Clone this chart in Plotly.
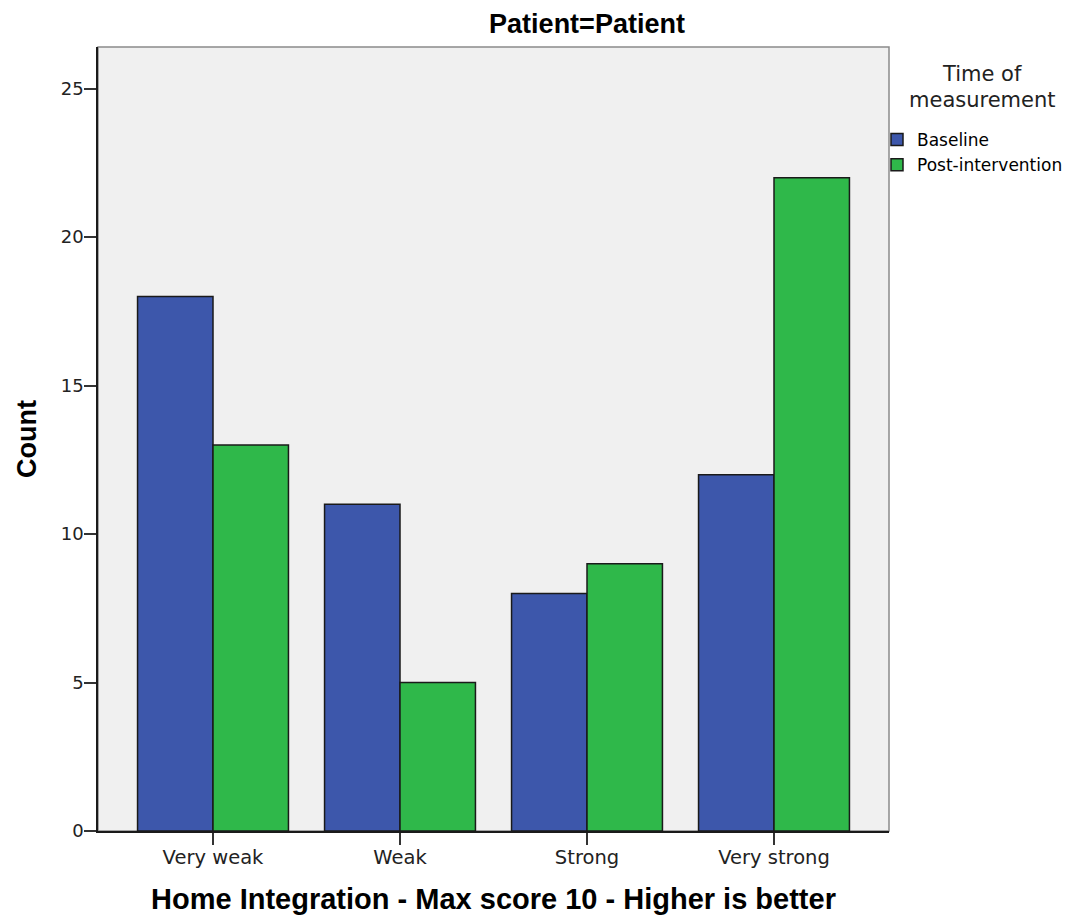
import plotly.graph_objects as go

categories = ["Very weak", "Weak", "Strong", "Very strong"]
baseline = [18, 11, 8, 12]
post_intervention = [13, 5, 9, 22]
series_names = ["Baseline", "Post-intervention"]
y_ticks = [0, 5, 10, 15, 20, 25]

W, H = 1063, 907  # page has an 8px body margin
L, T, PW, PH = 90, 39, 791, 784

fig = go.Figure()
fig.add_trace(go.Bar(x=categories, y=baseline, name=series_names[0],
                     marker=dict(color="#3D57AB", line=dict(color="#1a1a1a", width=1.5))))
fig.add_trace(go.Bar(x=categories, y=post_intervention, name=series_names[1],
                     marker=dict(color="#2FB84A", line=dict(color="#1a1a1a", width=1.5))))

fig.update_layout(
    width=W, height=H,
    margin=dict(l=L, r=W - L - PW, t=T, b=H - T - PH, autoexpand=False),
    paper_bgcolor="white",
    plot_bgcolor="#F0F0F0",
    barmode="group",
    bargap=0.193,
    bargroupgap=0,
    font=dict(family="DejaVu Sans, sans-serif", size=18, color="#222"),
    title=dict(text="<b>Patient=Patient</b>", x=579 / W, xanchor="center",
               y=1 - 6 / H, yanchor="top",
               font=dict(family="Liberation Sans, Arial", size=27, color="black")),
    legend=dict(
        x=(869 - L) / PW, xanchor="left", y=1 - (114 - T) / PH, yanchor="top",
        font=dict(family="DejaVu Sans", size=17, color="black"),
        bgcolor="rgba(0,0,0,0)",
    ),
    xaxis=dict(
        type="category", range=[-0.615, 3.615],
        showline=True, linecolor="#1a1a1a", linewidth=1.5,
        ticks="outside", ticklen=12, tickcolor="#333", tickwidth=1.5,
        ticklabelstandoff=-4,
        tickfont=dict(family="DejaVu Sans", size=19.5, color="#222"),
        showgrid=False, zeroline=False, automargin=True,
        title=dict(text="<b>Home Integration - Max score 10 - Higher is better</b>",
                   font=dict(family="Liberation Sans, Arial", size=29, color="black"), standoff=22),
    ),
    yaxis=dict(
        range=[0, 26.4], tickvals=y_ticks,
        showline=True, linecolor="#1a1a1a", linewidth=1.5,
        ticks="outside", ticklen=12, tickcolor="#333", tickwidth=1.5,
        ticklabelstandoff=-3,
        tickfont=dict(family="DejaVu Sans", size=18, color="#222"),
        showgrid=False, zeroline=False, automargin=False,
        title=dict(text="<b>Count</b>", font=dict(family="Liberation Sans, Arial", size=27, color="black"),
                   standoff=16),
    ),
)

# legend title, centred over the legend
leg_cx = (974 - L) / PW
fig.add_annotation(text="Time of", xref="paper", yref="paper", x=leg_cx, y=1 - (66 - T) / PH,
                   xanchor="center", yanchor="middle", showarrow=False,
                   font=dict(family="DejaVu Sans", size=21, color="#222"))
fig.add_annotation(text="measurement", xref="paper", yref="paper", x=leg_cx, y=1 - (92 - T) / PH,
                   xanchor="center", yanchor="middle", showarrow=False,
                   font=dict(family="DejaVu Sans", size=21, color="#222"))

# gray frame on the top and right edges of the plot area
fig.add_shape(type="rect", xref="paper", yref="paper", x0=0, y0=0, x1=1, y1=1,
              line=dict(color="#8a8a8a", width=1.5), layer="below")

fig.write_html("out.html")
